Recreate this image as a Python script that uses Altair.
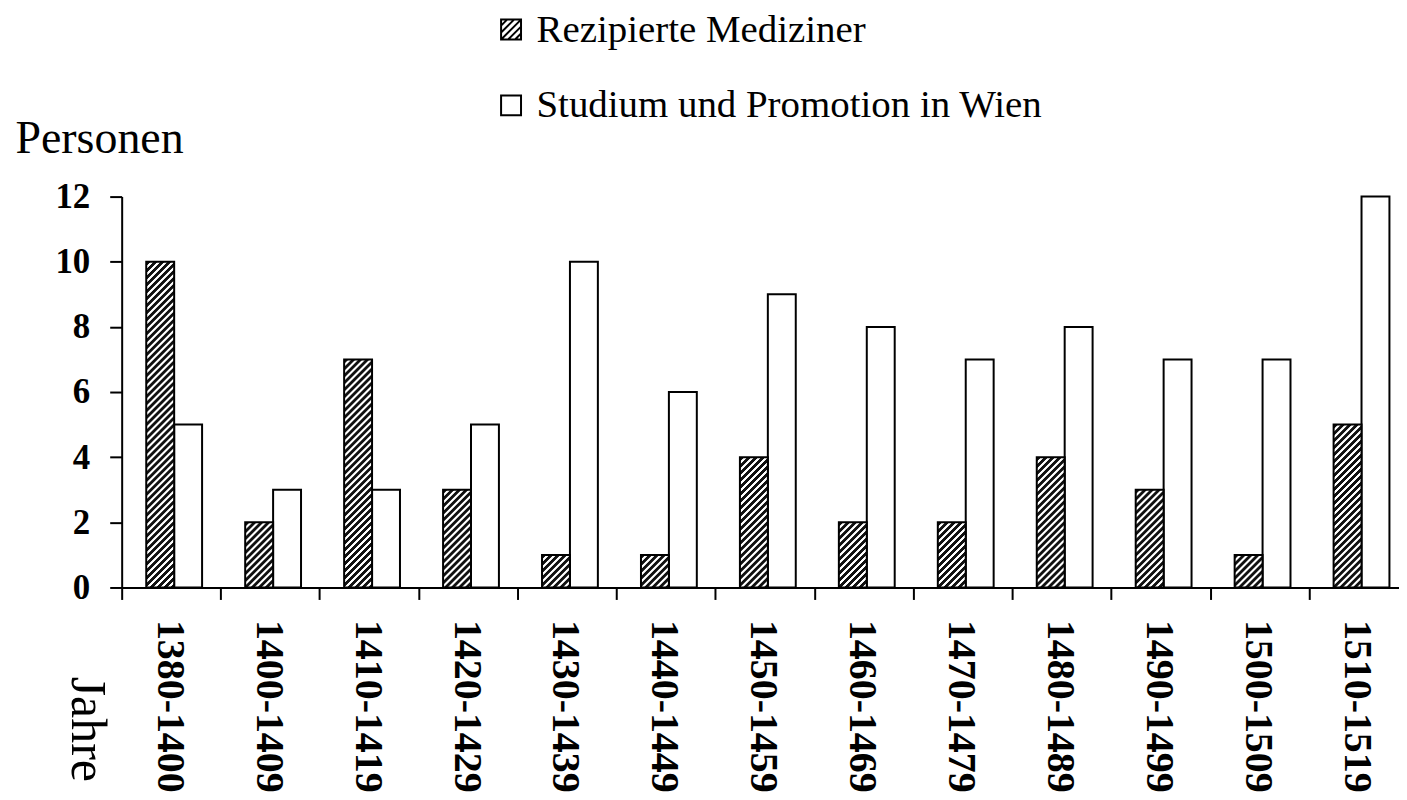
import altair as alt
import pandas as pd

# ---------------- data ----------------
periods = ["1380-1400", "1400-1409", "1410-1419", "1420-1429", "1430-1439",
           "1440-1449", "1450-1459", "1460-1469", "1470-1479", "1480-1489",
           "1490-1499", "1500-1509", "1510-1519"]
rezipiert = [10, 2, 7, 3, 1, 1, 4, 2, 2, 4, 3, 1, 5]
wien = [5, 3, 3, 5, 10, 6, 9, 8, 7, 8, 7, 7, 12]
series_names = ["Rezipierte Mediziner", "Studium und Promotion in Wien"]
y_ticks = [0, 2, 4, 6, 8, 10, 12]

rows = []
for p, a, b in zip(periods, rezipiert, wien):
    rows.append({"Jahre": p, "Reihe": series_names[0], "Personen": a})
    rows.append({"Jahre": p, "Reihe": series_names[1], "Personen": b})
df = pd.DataFrame(rows)

# ---------------- geometry / style ----------------
PLOT_W = 1281
X_RANGE = 1290
PLOT_H = 392
Y_MAX = 12
OFFSET_PAD_OUTER = 0.772
n = len(periods)
step = X_RANGE / n
bar_w = step / (2 + 2 * OFFSET_PAD_OUTER)
px_per_unit = PLOT_H / Y_MAX
FONT = "Liberation Serif"
DARK = "#111111"
LIGHT = "#ffffff"


def hatch_fill(h, w=bar_w, period=7.0, dark=3.0):
    """Linear gradient that draws 45-degree hatching inside a w x h bar."""
    total = w + h
    k = total / (w * w + h * h)
    stops = []
    s = 0.0
    while s < total:
        for off, col in [(s, LIGHT), (s + 1.0, DARK), (s + 1.0 + dark, DARK), (s + 2.0 + dark, LIGHT)]:
            if off <= total:
                stops.append({"offset": round(off / total, 5), "color": col})
        s += period
    return {"gradient": "linear", "x1": 0, "y1": 0,
            "x2": round(w * k, 5), "y2": round(h * k, 5), "stops": stops}


square_path = "M-1,-1H1V1H-1Z"
hatch_parts = [square_path]
for c in [-1.4, -0.7, 0.0, 0.7, 1.4]:
    if c <= 0:
        hatch_parts.append(f"M-1,{c + 1:.2f}L{c + 1:.2f},-1")
    else:
        hatch_parts.append(f"M{c - 1:.2f},1L1,{c - 1:.2f}")
hatch_path = "".join(hatch_parts)

x_enc = alt.X(
    "Jahre:N",
    scale=alt.Scale(domain=periods, range=[0, X_RANGE],
                    paddingInner=0, paddingOuter=0),
    axis=alt.Axis(
        labelAngle=90, labelAlign="left", labelBaseline="middle",
        labelFont=FONT, labelFontSize=40, labelFontWeight="bold",
        labelColor="black", labelPadding=20, labelLimit=400, labelOverlap=False,
        labelOffset=-2,
        tickBand="extent", tickSize=12, tickWidth=2, tickColor="black",
        domainColor="black", domainWidth=2, grid=False,
        title="Jahre", titleFont=FONT, titleFontSize=50, titleFontWeight="normal",
        titleColor="black", titleAngle=90, titleAlign="left", titleBaseline="middle",
        titleX=-35, titleY=89,
    ),
)
y_enc = alt.Y(
    "Personen:Q",
    scale=alt.Scale(domain=[0, Y_MAX], nice=False),
    axis=alt.Axis(
        values=y_ticks, format="d",
        labelFont=FONT, labelFontSize=35, labelFontWeight="bold",
        labelColor="black", labelPadding=20,
        tickSize=12, tickWidth=2, tickColor="black",
        domainColor="black", domainWidth=2, grid=False,
        title="Personen", titleFont=FONT, titleFontSize=46, titleFontWeight="normal",
        titleColor="black", titleAngle=0, titleAlign="left", titleBaseline="alphabetic",
        titleX=-107, titleY=-44,
    ),
)
xo_enc = alt.XOffset("Reihe:N", scale=alt.Scale(domain=series_names,
                                                 paddingInner=0,
                                                 paddingOuter=OFFSET_PAD_OUTER,
                                                 align=0.57))

base = alt.Chart(df).encode(x=x_enc, y=y_enc, xOffset=xo_enc)

layers = [
    base.transform_filter(alt.datum.Reihe == series_names[1])
        .mark_bar(fill="white", stroke="black", strokeWidth=2)
]
for v in sorted(set(rezipiert)):
    layers.append(
        base.transform_filter((alt.datum.Reihe == series_names[0]) & (alt.datum.Personen == v))
            .mark_bar(fill=hatch_fill(v * px_per_unit), stroke="black", strokeWidth=2)
    )

legend_layer = base.transform_filter("false").mark_point(
    filled=False, color="black", strokeWidth=2, opacity=1
).encode(
    shape=alt.Shape(
        "Reihe:N",
        scale=alt.Scale(domain=series_names, range=[hatch_path, square_path]),
        legend=alt.Legend(
            title=None, orient="none", legendX=371, legendY=-187,
            direction="vertical", symbolSize=400, symbolStrokeWidth=2,
            symbolStrokeColor="black", symbolOpacity=1,
            labelFont=FONT, labelFontSize=39, labelColor="black",
            labelOffset=6, labelLimit=1000, rowPadding=36, padding=0,
        ),
    )
)
layers.append(legend_layer)

chart = alt.layer(*layers).properties(
    width=PLOT_W, height=PLOT_H,
    autosize=alt.AutoSizeParams(type="none"),
    padding={"left": 114, "top": 188, "right": 0, "bottom": 210},
    background="white",
).configure_view(stroke=None)

chart.save("out.html", embed_options={"renderer": "svg", "actions": False})
